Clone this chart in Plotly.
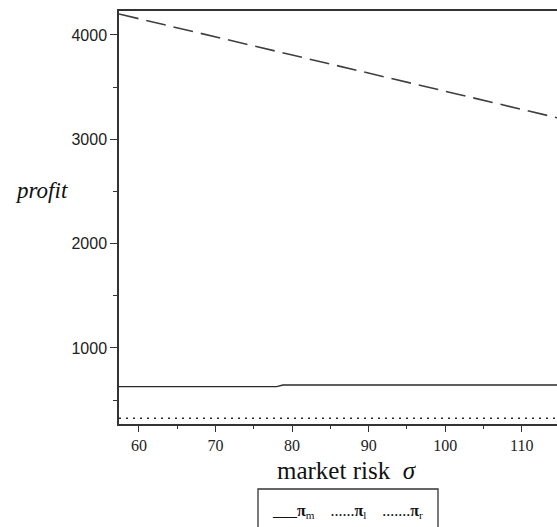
import plotly.graph_objects as go

# market risk sigma and profit series
sigma_dash = [57.4, 115.0]
profit_dash = [4201, 3200]

sigma_m = [57.4, 78.0, 78.8, 115.0]
profit_m = [629, 629, 645, 645]

sigma_dot = [57.4, 115.0]
profit_dot = [326, 326]

x_ticks = [60, 70, 80, 90, 100, 110]
y_ticks = [1000, 2000, 3000, 4000]

SERIF = "Liberation Serif, Times New Roman, serif"
SANS = "Liberation Sans, Arial, sans-serif"
AX = "#333333"

# plot area in pixels: left 119, right 557, top 11, bottom 424
L, R, T, B = 119, 557, 11, 424
W, H = R - L, B - T


def px(xp):
    return (xp - L) / W


def py(yp):
    return (B - yp) / H


fig = go.Figure()
fig.add_trace(go.Scatter(x=sigma_dash, y=profit_dash, mode="lines",
                         line=dict(color="#3f3f3f", width=1.6, dash="20px,8px")))
fig.add_trace(go.Scatter(x=sigma_m, y=profit_m, mode="lines",
                         line=dict(color="#2a2a2a", width=1.4)))
fig.add_trace(go.Scatter(x=sigma_dot, y=profit_dot, mode="lines",
                         line=dict(color="#2a2a2a", width=1.4, dash="2px,5px")))

fig.update_layout(
    width=557, height=527,
    margin=dict(l=L, r=557 - R, t=T, b=527 - B),
    paper_bgcolor="white", plot_bgcolor="white",
    showlegend=False,
    font=dict(family=SERIF, size=14, color="#222"),
    xaxis=dict(range=[57.4, 114.6], tickvals=x_ticks, ticktext=[str(v) for v in x_ticks],
               showgrid=False, zeroline=False, showline=True, linecolor=AX, linewidth=1.5,
               mirror=True, ticks="outside", ticklen=6, tickcolor=AX, tickwidth=1.2,
               minor=dict(dtick=5, tick0=0, ticks="outside", ticklen=3, tickcolor=AX),
               tickfont=dict(family=SERIF, size=16, color="#222")),
    yaxis=dict(range=[271, 4230], tickvals=y_ticks, ticktext=[str(v) for v in y_ticks],
               showgrid=False, zeroline=False, showline=True, linecolor=AX, linewidth=1.5,
               mirror=False, ticks="outside", ticklen=7, tickcolor=AX, tickwidth=1.2,
               minor=dict(dtick=500, tick0=0, ticks="outside", ticklen=4, tickcolor=AX),
               tickfont=dict(family=SANS, size=16, color="#222")),
)

# axis titles
fig.add_annotation(xref="paper", yref="paper", x=px(347), y=py(470),
                   text="market risk &nbsp;<i>σ</i>", showarrow=False,
                   xanchor="center", yanchor="middle",
                   font=dict(family=SERIF, size=25, color="#111"))
fig.add_annotation(xref="paper", yref="paper", x=px(41), y=py(190),
                   text="<i>profit</i>", showarrow=False,
                   xanchor="center", yanchor="middle",
                   font=dict(family=SERIF, size=23, color="#111"))

# legend box
fig.add_shape(type="rect", xref="paper", yref="paper",
              x0=px(258), x1=px(438), y0=py(489), y1=py(545),
              line=dict(color="#333", width=1.3), fillcolor="rgba(0,0,0,0)")
fig.add_annotation(xref="paper", yref="paper", x=px(347), y=py(511),
                   text="___<b>π</b><sub>m</sub> &nbsp;&nbsp; ......<b>π</b><sub>l</sub>"
                        " &nbsp;&nbsp; .......<b>π</b><sub>r</sub>",
                   showarrow=False, xanchor="center", yanchor="middle",
                   font=dict(family=SERIF, size=16, color="#111"))

fig.write_html("out.html")
